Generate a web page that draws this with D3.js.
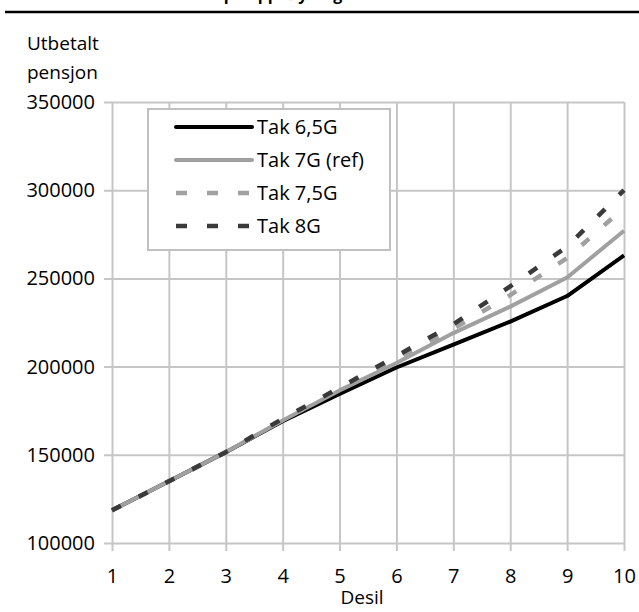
<!DOCTYPE html>
<html>
<head>
<meta charset="utf-8">
<script src="https://cdn.jsdelivr.net/npm/d3@7"></script>
<style>
  html, body { margin: 0; padding: 0; background: #fff; }
  svg { display: block; font-family: "Open Sans", "Noto Sans", sans-serif; }
</style>
</head>
<body>
<svg id="chart" width="639" height="612"></svg>
<script>
// Utbetalt pensjon per desil for ulike tak på opptjening
const deciles = [1, 2, 3, 4, 5, 6, 7, 8, 9, 10];
const tak65 = [118500, 135000, 151500, 169000, 184500, 199500, 212500, 225500, 240000, 263000];
const tak7  = [118500, 135000, 151500, 169500, 186500, 202000, 219000, 234000, 250500, 277000];
const tak75 = [118500, 135000, 151500, 170000, 187500, 204500, 221500, 240500, 261500, 290000];
const tak8  = [118500, 135000, 151500, 170500, 188000, 206000, 224000, 245500, 268000, 300000];
const seriesNames = ["Tak 6,5G", "Tak 7G (ref)", "Tak 7,5G", "Tak 8G"];
const yTicks = [100000, 150000, 200000, 250000, 300000, 350000];
const titleText = "Effekt på opphøyning av taket";
const yLabel = ["Utbetalt", "pensjon"];
const xLabel = "Desil";

const svg = d3.select("#chart");
const W = 639, H = 612;
const plot = { left: 112, right: 624, top: 102, bottom: 543 };

const x = d3.scaleLinear().domain([1, 10]).range([plot.left, plot.right]);
const y = d3.scaleLinear().domain([100000, 350000]).range([plot.bottom, plot.top]);

// Heading (runs off the top edge) and the rule below it
svg.append("text")
  .attr("x", 172).attr("y", 0)
  .attr("font-size", 16).attr("font-weight", "bold")
  .attr("fill", "#000")
  .text(titleText);
svg.append("line")
  .attr("x1", 5).attr("x2", W).attr("y1", 12).attr("y2", 12)
  .attr("stroke", "#000").attr("stroke-width", 2.5);

const gridColor = "#c6c6c6";

// Horizontal gridlines with outward ticks
const yAxis = d3.axisLeft(y).tickValues(yTicks)
  .tickSize(0).tickFormat(d3.format("d"));
svg.append("g")
  .attr("transform", `translate(${plot.right},0)`)
  .call(g => {
    g.call(yAxis);
    g.select(".domain").remove();
    g.selectAll(".tick line")
      .attr("x1", 0).attr("x2", -(plot.right - plot.left) - 8)
      .attr("stroke", gridColor).attr("stroke-width", 2);
    g.selectAll(".tick text")
      .attr("x", -(plot.right - plot.left) - 17)
      .attr("font-size", 20).attr("fill", "#000")
      .attr("font-family", "'Open Sans', sans-serif");
  });

// Vertical gridlines with ticks below the plot
const xAxis = d3.axisBottom(x).tickValues(deciles)
  .tickSize(0).tickFormat(d3.format("d"));
svg.append("g")
  .attr("transform", `translate(0,${plot.bottom})`)
  .call(g => {
    g.call(xAxis);
    g.select(".domain").remove();
    g.selectAll(".tick line")
      .attr("y1", -(plot.bottom - plot.top)).attr("y2", 8)
      .attr("stroke", gridColor).attr("stroke-width", 2);
    g.selectAll(".tick text")
      .attr("y", 26).attr("dy", "0.71em")
      .attr("font-size", 20).attr("fill", "#000")
      .attr("font-family", "'Open Sans', sans-serif");
  });

// Axis titles
svg.append("text").attr("x", 27).attr("y", 50)
  .attr("font-size", 19).attr("fill", "#000").text(yLabel[0]);
svg.append("text").attr("x", 27).attr("y", 79)
  .attr("font-size", 19).attr("fill", "#000").text(yLabel[1]);
svg.append("text").attr("x", 362).attr("y", 604)
  .attr("text-anchor", "middle")
  .attr("font-size", 19).attr("fill", "#000").text(xLabel);

// Series
const series = [
  { name: seriesNames[0], values: tak65, color: "#000000", width: 4, dash: null },
  { name: seriesNames[1], values: tak7,  color: "#a0a0a0", width: 4, dash: null },
  { name: seriesNames[2], values: tak75, color: "#a0a0a0", width: 4.5, dash: "10,20" },
  { name: seriesNames[3], values: tak8,  color: "#3a3a3a", width: 4.5, dash: "10,20" }
];

const line = d3.line()
  .x((d, i) => x(deciles[i]))
  .y(d => y(d));

svg.append("g").selectAll("path")
  .data(series)
  .join("path")
  .attr("d", s => line(s.values))
  .attr("fill", "none")
  .attr("stroke", s => s.color)
  .attr("stroke-width", s => s.width)
  .attr("stroke-linejoin", "round")
  .attr("stroke-dasharray", s => s.dash);

// Legend
const legend = svg.append("g");
legend.append("rect")
  .attr("x", 148).attr("y", 109).attr("width", 242).attr("height", 141)
  .attr("fill", "#fff").attr("stroke", "#c0c0c0").attr("stroke-width", 2);
const rowY = [127, 160, 193, 226];
series.forEach((s, i) => {
  legend.append("line")
    .attr("x1", 176).attr("x2", 252)
    .attr("y1", rowY[i]).attr("y2", rowY[i])
    .attr("stroke", s.color)
    .attr("stroke-width", s.dash ? 4.5 : 4)
    .attr("stroke-linecap", s.dash ? "butt" : "round")
    .attr("stroke-dasharray", s.dash ? "11,20" : null);
  legend.append("text")
    .attr("x", 257).attr("y", rowY[i] + 7)
    .attr("font-size", 20).attr("fill", "#000")
    .text(s.name);
});
</script>
</body>
</html>
